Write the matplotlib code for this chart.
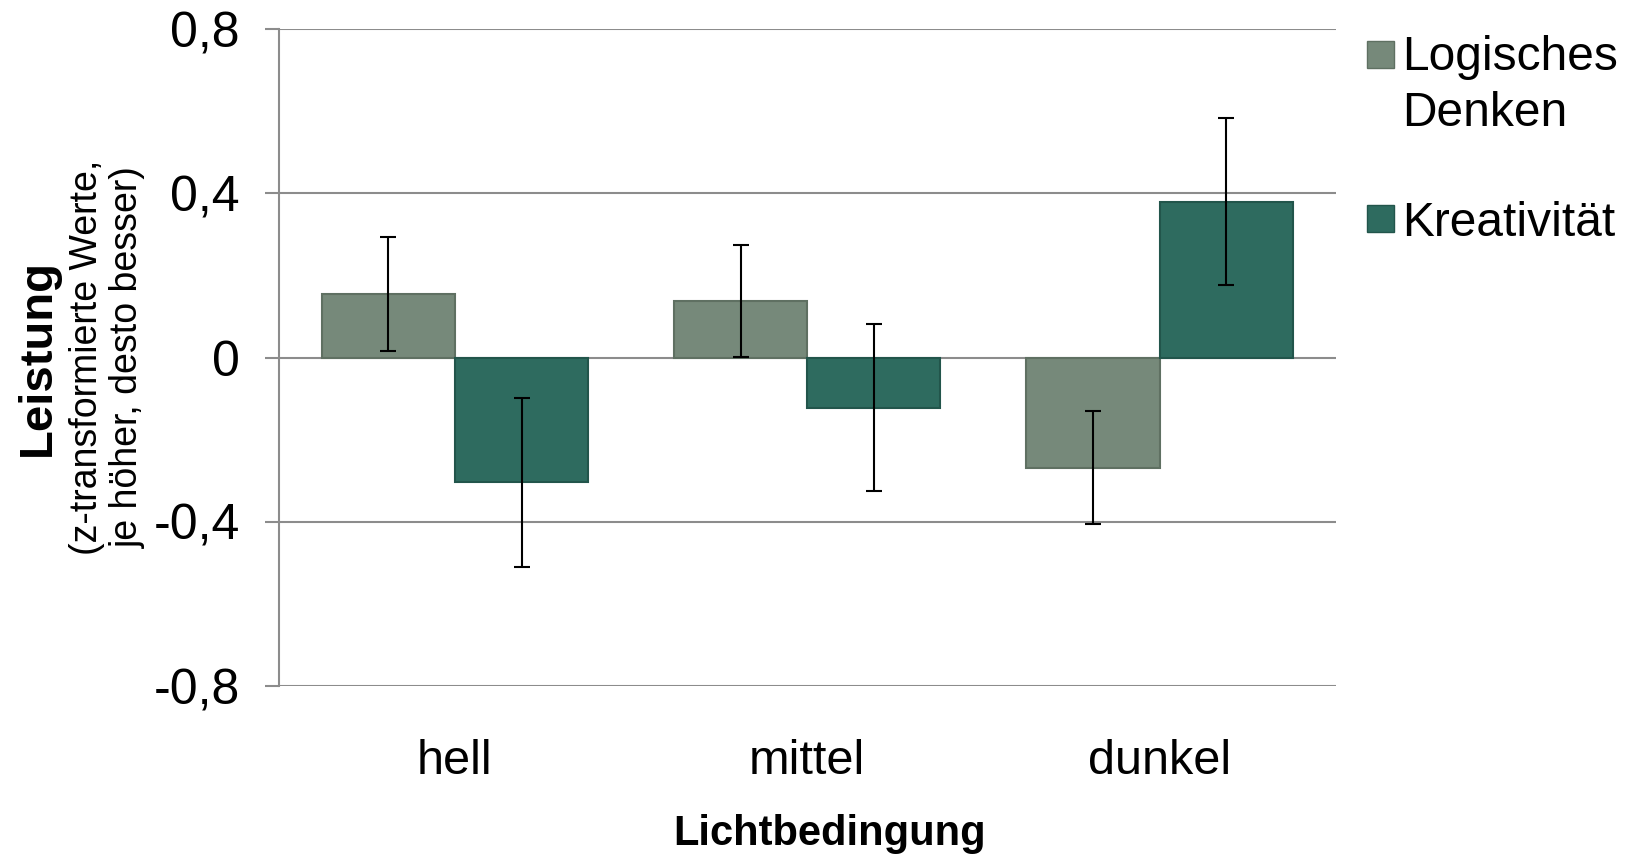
import matplotlib.pyplot as plt
import matplotlib.patches as mpatches
import numpy as np

plt.rcParams['font.family'] = ['Liberation Sans', 'DejaVu Sans']

categories = ['hell', 'mittel', 'dunkel']
series = ['Logisches\nDenken', 'Kreativität']
logisch = [0.155, 0.138, -0.268]
logisch_err = [0.139, 0.137, 0.138]
kreativ = [-0.304, -0.122, 0.380]
kreativ_err = [0.205, 0.204, 0.204]
colors = ['#76897a', '#2e6b5f']
edges = ['#5f7062', '#22554b']

fig = plt.figure(figsize=(16.3, 8.55), dpi=100)
ax = fig.add_axes([0.171, 0.1975, 0.6485, 0.7685])

x = np.arange(len(categories))
w = 0.378
for i, (vals, errs) in enumerate([(logisch, logisch_err), (kreativ, kreativ_err)]):
    pos = x + (i - 0.5) * w
    ax.bar(pos, vals, width=w, color=colors[i], edgecolor=edges[i], linewidth=1.5, zorder=3)
    ax.errorbar(pos, vals, yerr=errs, fmt='none', ecolor='black', elinewidth=1.5,
                capsize=6, capthick=1.5, zorder=4)

ax.set_xlim(-0.5, 2.5)
ax.set_ylim(-0.8, 0.8)
ax.set_yticks([-0.8, -0.4, 0, 0.4, 0.8])
ax.set_yticklabels(['-0,8', '-0,4', '0', '0,4', '0,8'], fontsize=36)
ax.set_xticks(x)
ax.set_xticklabels(categories, fontsize=35)
ax.tick_params(axis='x', length=0, pad=38)
ax.tick_params(axis='y', length=10, color='#8c8c8c', width=1.5, pad=18)
ax.grid(axis='y', color='#8c8c8c', linewidth=1.5, zorder=0)
for s in ['top', 'right', 'bottom']:
    ax.spines[s].set_visible(False)
ax.spines['left'].set_color('#8c8c8c')
ax.spines['left'].set_linewidth(1.5)

fig.text(0.509, 0.024, 'Lichtbedingung', ha='center', va='center',
         fontsize=30, fontweight='bold')
fig.text(0.023, 0.582, 'Leistung', rotation=90, ha='center', va='center',
         fontsize=34, fontweight='bold')
fig.text(0.066, 0.582, '(z-transformierte Werte,\nje höher, desto besser)', rotation=90,
         ha='center', va='center', fontsize=27, linespacing=1.15)

# legend drawn by hand so the marker sits on the first label line
leg_y = [0.937, 0.745]
for lbl, col, ec, yy in zip(series, colors, edges, leg_y):
    fig.patches.append(mpatches.Rectangle((0.8385, yy - 0.016), 0.0165, 0.031,
                                          facecolor=col, edgecolor=ec, linewidth=1,
                                          transform=fig.transFigure, figure=fig))
    ty = yy - 0.025 if '\n' in lbl else yy
    fig.text(0.86, ty, lbl, ha='left', va='center_baseline', fontsize=34.5, linespacing=1.3)

fig.savefig('out.png', dpi=100)
